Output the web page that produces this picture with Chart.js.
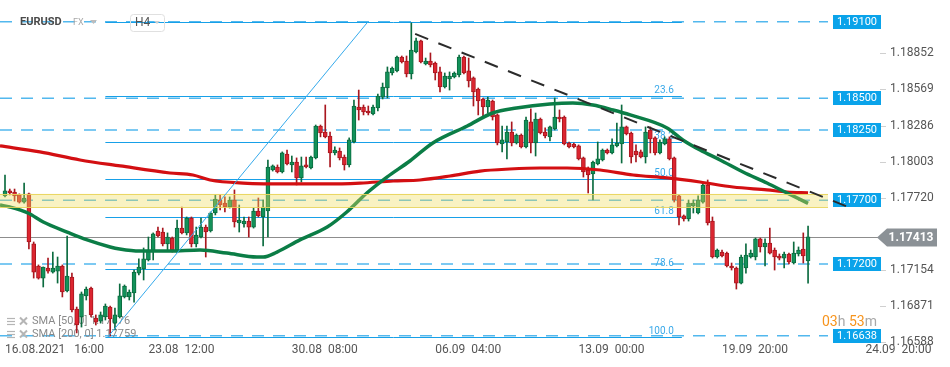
<!DOCTYPE html>
<html><head><meta charset="utf-8">
<script src="https://cdn.jsdelivr.net/npm/chart.js@4.4.1/dist/chart.umd.min.js"></script>
<style>html,body{margin:0;padding:0;background:#fff;overflow:hidden}canvas{display:block}</style>
</head><body>
<canvas id="c" width="950" height="367"></canvas>
<script>
// ---- data (H4 candles, index 0 = 16.08.2021 16:00) ----
const candleOpen = [1.17734,1.17773,1.17765,1.17742,1.17686,1.17750,1.17358,1.17185,1.17090,1.17169,
1.17137,1.17145,1.17185,1.16989,1.17098,1.16847,1.16785,1.16950,1.17012,1.16777,
1.16753,1.16785,1.16863,1.16737,1.16785,1.16942,1.16942,1.16973,1.17129,1.17161,
1.17232,1.17302,1.17459,1.17451,1.17358,1.17404,1.17310,1.17482,1.17444,1.17561,
1.17358,1.17412,1.17490,1.17459,1.17600,1.17702,1.17678,1.17647,1.17702,1.17522,
1.17514,1.17537,1.17490,1.17616,1.17569,1.17616,1.17937,1.17961,1.17922,1.18063,
1.17977,1.18000,1.17875,1.17977,1.17953,1.18032,1.18282,1.18235,1.18204,1.18071,
1.18086,1.18039,1.17977,1.18157,1.18431,1.18431,1.18400,1.18377,1.18423,1.18509,
1.18580,1.18698,1.18714,1.18823,1.18792,1.18690,1.18862,1.18949,1.18768,1.18792,
1.18776,1.18706,1.18588,1.18651,1.18667,1.18682,1.18823,1.18714,1.18659,1.18572,
1.18494,1.18431,1.18478,1.18369,1.18141,1.18157,1.18235,1.18149,1.18212,1.18118,
1.18314,1.18149,1.18337,1.18235,1.18197,1.18259,1.18353,1.18353,1.18149,1.18141,
1.18126,1.18032,1.17937,1.17906,1.17985,1.18016,1.18094,1.18071,1.18126,1.18141,
1.18275,1.18227,1.18086,1.18079,1.18039,1.18251,1.18189,1.18071,1.18141,1.18181,
1.18032,1.17734,1.17577,1.17553,1.17655,1.17600,1.17686,1.17820,1.17537,1.17255,
1.17294,1.17286,1.17185,1.17169,1.17051,1.17169,1.17255,1.17255,1.17397,1.17334,
1.17365,1.17310,1.17263,1.17247,1.17279,1.17208,1.17279,1.17318,1.17224];
const candleHigh = [1.17898,1.17788,1.17788,1.17750,1.17835,1.17757,1.17373,1.17193,1.17177,1.17247,
1.17294,1.17255,1.17193,1.17420,1.17129,1.16863,1.16981,1.17020,1.17020,1.16801,
1.16824,1.16887,1.16871,1.16855,1.17044,1.17036,1.16997,1.17153,1.17240,1.17326,
1.17412,1.17444,1.17490,1.17482,1.17444,1.17412,1.17545,1.17647,1.17569,1.17569,
1.17490,1.17561,1.17506,1.17608,1.17742,1.17742,1.17726,1.17726,1.17781,1.17663,
1.17569,1.17569,1.17639,1.17718,1.17702,1.18016,1.17977,1.17977,1.18079,1.18094,
1.18047,1.18032,1.18039,1.18039,1.18047,1.18290,1.18290,1.18447,1.18235,1.18118,
1.18110,1.18055,1.18189,1.18486,1.18564,1.18447,1.18439,1.18447,1.18533,1.18619,
1.18745,1.18745,1.18831,1.18831,1.18831,1.19090,1.18972,1.18956,1.18815,1.18855,
1.18784,1.18745,1.18698,1.18706,1.18706,1.18839,1.18831,1.18815,1.18667,1.18580,
1.18502,1.18509,1.18486,1.18377,1.18282,1.18282,1.18314,1.18220,1.18220,1.18353,
1.18416,1.18384,1.18345,1.18267,1.18282,1.18502,1.18408,1.18361,1.18157,1.18149,
1.18134,1.18039,1.17961,1.18008,1.18157,1.18102,1.18102,1.18181,1.18306,1.18447,
1.18282,1.18235,1.18134,1.18094,1.18275,1.18275,1.18197,1.18173,1.18197,1.18197,
1.18039,1.17742,1.17585,1.17702,1.17702,1.17734,1.17835,1.17859,1.17569,1.17318,
1.17310,1.17294,1.17208,1.17177,1.17271,1.17358,1.17310,1.17404,1.17404,1.17397,
1.17482,1.17326,1.17279,1.17294,1.17286,1.17373,1.17334,1.17444,1.17498];
const candleLow = [1.17726,1.17742,1.17694,1.17678,1.17678,1.17318,1.17090,1.17082,1.17020,1.17129,
1.17129,1.17051,1.16942,1.16981,1.16824,1.16660,1.16706,1.16918,1.16785,1.16722,
1.16737,1.16761,1.16636,1.16683,1.16777,1.16934,1.16918,1.16902,1.17114,1.17075,
1.17224,1.17232,1.17412,1.17342,1.17310,1.17294,1.17294,1.17436,1.17428,1.17334,
1.17334,1.17404,1.17255,1.17451,1.17585,1.17624,1.17608,1.17639,1.17490,1.17451,
1.17490,1.17412,1.17482,1.17569,1.17342,1.17412,1.17929,1.17914,1.17914,1.17977,
1.17922,1.17820,1.17843,1.17953,1.17945,1.18024,1.18197,1.18189,1.17961,1.18055,
1.18016,1.17937,1.17961,1.18149,1.18329,1.18369,1.18369,1.18369,1.18400,1.18494,
1.18502,1.18682,1.18706,1.18776,1.18667,1.18651,1.18855,1.18776,1.18761,1.18745,
1.18643,1.18549,1.18580,1.18564,1.18659,1.18667,1.18690,1.18588,1.18439,1.18369,
1.18361,1.18384,1.18329,1.18134,1.18079,1.18024,1.18126,1.18141,1.18110,1.18110,
1.18071,1.18047,1.18220,1.18189,1.18165,1.18251,1.18314,1.18134,1.18110,1.18110,
1.18016,1.17882,1.17757,1.17702,1.17977,1.18008,1.18063,1.18063,1.18118,1.17992,
1.18212,1.17992,1.18000,1.18032,1.17992,1.18071,1.18055,1.18063,1.18134,1.18016,
1.17686,1.17506,1.17537,1.17537,1.17600,1.17592,1.17678,1.17506,1.17247,1.17247,
1.17255,1.17177,1.17153,1.17004,1.17044,1.17129,1.17247,1.17232,1.17294,1.17185,
1.17279,1.17153,1.17232,1.17169,1.17200,1.17200,1.17263,1.17208,1.17051];
const candleClose = [1.17773,1.17757,1.17734,1.17686,1.17718,1.17373,1.17137,1.17090,1.17177,1.17145,
1.17169,1.17185,1.16981,1.17106,1.16840,1.16722,1.16966,1.17004,1.16801,1.16745,
1.16801,1.16871,1.16769,1.16801,1.16950,1.17028,1.16981,1.17137,1.17177,1.17240,
1.17310,1.17436,1.17420,1.17358,1.17412,1.17310,1.17482,1.17444,1.17561,1.17358,
1.17428,1.17490,1.17451,1.17600,1.17710,1.17663,1.17647,1.17702,1.17530,1.17545,
1.17537,1.17490,1.17616,1.17577,1.17647,1.17961,1.17969,1.17922,1.18071,1.17985,
1.18000,1.17875,1.17969,1.17961,1.18039,1.18282,1.18227,1.18197,1.18071,1.18094,
1.18032,1.17977,1.18173,1.18439,1.18408,1.18392,1.18384,1.18431,1.18517,1.18588,
1.18706,1.18737,1.18823,1.18784,1.18690,1.18878,1.18949,1.18784,1.18792,1.18761,
1.18698,1.18588,1.18674,1.18674,1.18698,1.18823,1.18698,1.18635,1.18549,1.18478,
1.18431,1.18486,1.18353,1.18149,1.18173,1.18235,1.18149,1.18212,1.18118,1.18329,
1.18149,1.18337,1.18227,1.18204,1.18275,1.18353,1.18337,1.18141,1.18118,1.18118,
1.18024,1.17922,1.17898,1.18000,1.18024,1.18094,1.18071,1.18134,1.18149,1.18275,
1.18220,1.18039,1.18055,1.18039,1.18235,1.18181,1.18071,1.18157,1.18181,1.18024,
1.17702,1.17569,1.17553,1.17678,1.17678,1.17702,1.17820,1.17522,1.17255,1.17310,
1.17263,1.17185,1.17169,1.17051,1.17255,1.17271,1.17286,1.17397,1.17334,1.17365,
1.17286,1.17255,1.17247,1.17279,1.17216,1.17286,1.17310,1.17263,1.17413];

const sma50Index = [-1.05,1,4.8,8,13,17.2,22,24,28.2,34.5,40.8,46.4,52.7,54,56.9,61.7,67.4,71.5,75.7,79.9,84.7,89.5,96.7,102,107,114,118.8,123,127.2,130.8,138.5,141.8,145.4,149.6,154.4,159.4,163.6,168];
const sma50 = [1.17663,1.17647,1.17600,1.17530,1.17451,1.17389,1.17334,1.17318,1.17302,1.17302,1.17310,1.17286,1.17255,1.17255,1.17294,1.17389,1.17490,1.17608,1.17757,1.17882,1.18008,1.18149,1.18282,1.18384,1.18423,1.18455,1.18463,1.18447,1.18408,1.18369,1.18267,1.18173,1.18094,1.18016,1.17922,1.17835,1.17757,1.17676];
const sma200Index = [-1.05,7.3,15.7,24.1,34.5,39.3,42.9,49.8,60.3,67.4,74.3,81.2,86.8,93.1,99.4,105.6,111.9,117.6,124.5,131.4,138.5,145.4,152.3,159.4,163.6,168];
const sma200 = [1.18126,1.18079,1.18016,1.17969,1.17914,1.17898,1.17859,1.17835,1.17828,1.17828,1.17835,1.17851,1.17859,1.17890,1.17929,1.17945,1.17953,1.17953,1.17937,1.17898,1.17875,1.17843,1.17804,1.17781,1.17765,1.17759];

const timeTickIndex = [0,30,60,90,120,150,180];
const timeTickLabels = ['16.08.2021   16:00','23.08  12:00','30.08  08:00','06.09  04:00','13.09  00:00','19.09  20:00','24.09  20:00'];
const priceTicks = [1.18852,1.18569,1.18286,1.18003,1.17720,1.17154,1.16871,1.16588];
const levelPrices = [1.19100,1.18500,1.18250,1.17700,1.17200,1.16638];
const fibRatios = [0,23.6,38.2,50.0,61.8,78.6,100.0];
const fibHigh = 1.19096, fibLow = 1.16630;
const fibStartIndex = 21, fibEndIndex = 141.6;
const zoneTop = 1.17750, zoneBottom = 1.17647;
const trendDownStart = [85.8, 1.19004], trendDownEnd = [176.4, 1.17647];
const trendUpStart = [21.5, 1.16628], trendUpEnd = [75.9, 1.19098];
const lastPrice = 1.17413;
const legendLines = ['SMA [50, 0] 1.17676','SMA [200, 0] 1.17759'];
const symbolName = 'EURUSD', marketName = 'FX', timeframe = 'H4';
const countdown = ['03','h',' ','53','m'];

// ---- chart ----
const UP = '#12925a', UPB = '#0b6b3f', DN = '#dc2530', DNB = '#a9171f';
const isUp = candleOpen.map((o,i)=>candleClose[i] >= o);
const bodies = candleOpen.map((o,i)=>({x:i, y:[o, candleClose[i]]}));
const wicks = candleOpen.map((o,i)=>({x:i, y:[candleLow[i], candleHigh[i]]}));

const deco = {
  id:'deco',
  beforeDraw(c){ const ctx=c.ctx; ctx.save(); ctx.fillStyle='#fff'; ctx.fillRect(0,0,c.width,c.height); ctx.restore(); },
  beforeDatasetsDraw(c){
    const {ctx, chartArea:a, scales:{x,y}} = c;
    ctx.save();
    ctx.beginPath(); ctx.rect(a.left,a.top,a.right-a.left,a.bottom-a.top); ctx.clip();
    ctx.setLineDash([12,9]); ctx.lineWidth=1.5; ctx.strokeStyle='#52b8ee';
    levelPrices.forEach(p=>{const py=y.getPixelForValue(p); ctx.beginPath(); ctx.moveTo(a.left,py); ctx.lineTo(a.right,py); ctx.stroke();});
    ctx.setLineDash([]); ctx.lineWidth=1; ctx.strokeStyle='#17a0e8';
    const fx0=x.getPixelForValue(fibStartIndex), fx1=x.getPixelForValue(fibEndIndex);
    ctx.font='10px Roboto'; ctx.fillStyle='#3aa9e9'; ctx.textAlign='right'; ctx.textBaseline='alphabetic';
    fibRatios.forEach(r=>{
      const p=fibHigh-(fibHigh-fibLow)*r/100; const py=Math.round(y.getPixelForValue(p))+0.5;
      ctx.beginPath(); ctx.moveTo(fx0,py); ctx.lineTo(fx1,py); ctx.stroke();
      if(r>0) ctx.fillText(r.toFixed(1), fx1-8, py-4);
    });
    ctx.restore();
    // current price line
    ctx.save(); ctx.strokeStyle='#8d8d8d'; ctx.lineWidth=1;
    const cp=Math.round(y.getPixelForValue(lastPrice))+0.5;
    ctx.beginPath(); ctx.moveTo(a.left,cp); ctx.lineTo(878,cp); ctx.stroke();
    // legend (under candles)
    ctx.font='11px Roboto'; ctx.textBaseline='middle'; ctx.textAlign='left';
    legendLines.forEach((t,k)=>{
      const ly=321+k*13;
      ctx.strokeStyle='#b5b5b5'; ctx.lineWidth=1.2;
      for(let j=-3;j<=3;j+=3){ctx.beginPath(); ctx.moveTo(7,ly+j+0.5); ctx.lineTo(15,ly+j+0.5); ctx.stroke();}
      ctx.lineWidth=2; ctx.beginPath(); ctx.moveTo(20,ly-3.5); ctx.lineTo(27,ly+3.5); ctx.moveTo(27,ly-3.5); ctx.lineTo(20,ly+3.5); ctx.stroke();
      ctx.fillStyle='#8a8a8a'; ctx.fillText(t,32,ly);
    });
    ctx.restore();
  },
  afterDatasetsDraw(c){
    const {ctx, chartArea:a, scales:{x,y}} = c;
    ctx.save();
    ctx.beginPath(); ctx.rect(a.left,a.top,a.right-a.left,a.bottom-a.top); ctx.clip();
    const zt=y.getPixelForValue(zoneTop), zb=y.getPixelForValue(zoneBottom);
    ctx.fillStyle='rgba(240,222,95,0.38)'; ctx.fillRect(a.left,zt,a.right-a.left,zb-zt);
    ctx.strokeStyle='rgba(232,212,90,0.9)'; ctx.lineWidth=1;
    ctx.beginPath(); ctx.moveTo(a.left,Math.round(zt)+0.5); ctx.lineTo(a.right,Math.round(zt)+0.5);
    ctx.moveTo(a.left,Math.round(zb)+0.5); ctx.lineTo(a.right,Math.round(zb)+0.5); ctx.stroke();
    ctx.strokeStyle='#35aaec'; ctx.lineWidth=1;
    ctx.beginPath(); ctx.moveTo(x.getPixelForValue(trendUpStart[0]), y.getPixelForValue(trendUpStart[1]));
    ctx.lineTo(x.getPixelForValue(trendUpEnd[0]), y.getPixelForValue(trendUpEnd[1])); ctx.stroke();
    ctx.restore();
  },
  afterDraw(c){
    const {ctx, chartArea:a, scales:{x,y}} = c;
    ctx.save();
    // y tick marks
    ctx.strokeStyle='#d0d0d0'; ctx.lineWidth=1;
    priceTicks.forEach(p=>{const py=Math.round(y.getPixelForValue(p))+0.5; ctx.beginPath(); ctx.moveTo(880,py); ctx.lineTo(886,py); ctx.stroke();});
    // level tags
    ctx.font='11px Roboto'; ctx.textAlign='center'; ctx.textBaseline='middle';
    levelPrices.forEach(p=>{
      const py=Math.round(y.getPixelForValue(p));
      ctx.fillStyle='#0aa3ea'; ctx.fillRect(833,py-7,48,14);
      ctx.fillStyle='#fff'; ctx.fillText(p.toFixed(5),857,py+0.5);
    });
    // black dashed trend line (not clipped)
    ctx.strokeStyle='#2b2b2b'; ctx.lineWidth=2; ctx.setLineDash([14,11]);
    ctx.beginPath(); ctx.moveTo(x.getPixelForValue(trendDownStart[0]), y.getPixelForValue(trendDownStart[1]));
    ctx.lineTo(x.getPixelForValue(trendDownEnd[0]), y.getPixelForValue(trendDownEnd[1])); ctx.stroke();
    ctx.setLineDash([]);
    // current price tag
    const cp=Math.round(y.getPixelForValue(lastPrice));
    ctx.fillStyle='#8b9196'; ctx.beginPath();
    ctx.moveTo(877,cp+0.5); ctx.lineTo(887,cp-8.5); ctx.lineTo(937,cp-8.5); ctx.lineTo(937,cp+9.5); ctx.lineTo(887,cp+9.5); ctx.closePath(); ctx.fill();
    ctx.fillStyle='#fff'; ctx.font='bold 12px Roboto'; ctx.fillText(lastPrice.toFixed(5),911,cp+1);
    // countdown
    ctx.font='14px Roboto'; ctx.textAlign='left'; ctx.textBaseline='middle';
    let tx=822;
    countdown.forEach(t=>{ ctx.fillStyle=/\d/.test(t)?'#f7941d':'#a8a8a8'; ctx.fillText(t,tx,322); tx+=ctx.measureText(t).width; });
    // x labels
    ctx.font='12px Roboto'; ctx.fillStyle='#555'; ctx.textAlign='left';
    timeTickIndex.forEach((idx,k)=>{ ctx.fillText(timeTickLabels[k], x.getPixelForValue(idx), 350); });
    // header
    ctx.font='bold 11px Roboto'; ctx.fillStyle='#4a4a4a'; ctx.fillText(symbolName,20,22);
    ctx.font='9px Roboto'; ctx.fillStyle='#a8a8a8'; ctx.fillText(marketName,73,23);
    ctx.fillStyle='#bdbdbd'; ctx.beginPath(); ctx.moveTo(90,20); ctx.lineTo(97,20); ctx.lineTo(93.5,24); ctx.closePath(); ctx.fill();
    ctx.strokeStyle='#e0e0e0'; ctx.lineWidth=1; ctx.beginPath();
    if (ctx.roundRect) ctx.roundRect(130.5,14.5,34,17,3); else ctx.rect(130.5,14.5,34,17); ctx.stroke();
    ctx.font='12px Roboto'; ctx.fillStyle='#555'; ctx.fillText(timeframe,135,23);
    ctx.fillStyle='#cfcfcf'; ctx.beginPath(); ctx.moveTo(154,21); ctx.lineTo(160,21); ctx.lineTo(157,24); ctx.closePath(); ctx.fill();
    ctx.restore();
  }
};

new Chart(document.getElementById('c'), {
  type:'bar',
  data:{ datasets:[
    {type:'line', label:'SMA 50', data:sma50Index.map((v,k)=>({x:v,y:sma50[k]})), borderColor:'#0b7d46', borderWidth:3.5, pointRadius:0, cubicInterpolationMode:'monotone', order:0},
    {type:'line', label:'SMA 200', data:sma200Index.map((v,k)=>({x:v,y:sma200[k]})), borderColor:'#d30f12', borderWidth:3.2, pointRadius:0, cubicInterpolationMode:'monotone', order:0},
    {label:'body', data:bodies, backgroundColor:isUp.map(u=>u?UP:DN), borderColor:isUp.map(u=>u?UPB:DNB), borderWidth:1, borderSkipped:false, barThickness:4, minBarLength:1, grouped:false, order:1},
    {label:'wick', data:wicks, backgroundColor:isUp.map(u=>u?UPB:DNB), barThickness:1, grouped:false, order:2}
  ]},
  options:{
    responsive:false, animation:false, devicePixelRatio:1,
    layout:{padding:{left:0,right:0,top:0,bottom:24}},
    plugins:{legend:{display:false}, tooltip:{enabled:false}},
    scales:{
      x:{type:'linear', min:-1.046, max:172.17, offset:false, display:false},
      y:{position:'right', min:1.16581, max:1.19270, beginAtZero:false,
         grid:{display:false, drawTicks:false}, border:{display:false},
         afterFit(s){ s.width=122; s.paddingTop=0; s.paddingBottom=0; s.paddingLeft=0; s.paddingRight=0; },
         afterBuildTicks(s){ s.ticks=priceTicks.map(v=>({value:v})); },
         ticks:{padding:62, color:'#555', autoSkip:false, font:{family:'Roboto', size:12}, callback:v=>Number(v).toFixed(5)}}
    }
  },
  plugins:[deco]
});
</script>
</body></html>
